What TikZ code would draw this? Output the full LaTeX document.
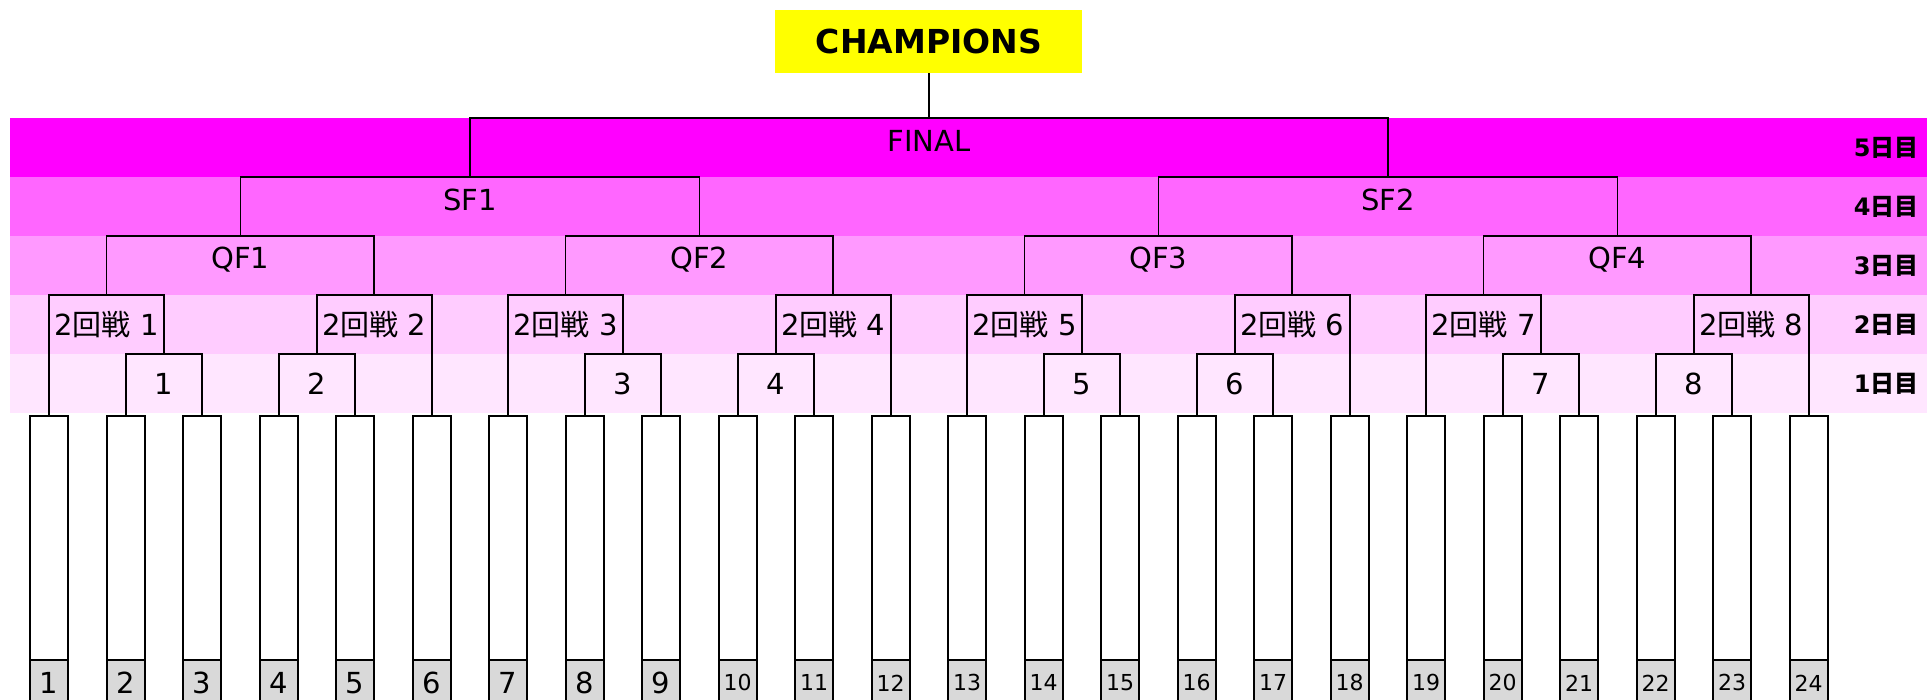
\documentclass[tikz,border=0pt]{standalone}
\usepackage{fontspec}
\setmainfont{DejaVu Sans}
\newfontfamily\jp{Noto Sans CJK JP}
\usetikzlibrary{positioning}
\definecolor{DayFive} {RGB}{255,0,255}
\definecolor{DayFour} {RGB}{255,102,255}
\definecolor{DayThree}{RGB}{255,153,255}
\definecolor{DayTwo}  {RGB}{255,204,255}
\definecolor{DayOne}  {RGB}{255,230,255}
\definecolor{SeedGray}{RGB}{217,217,217}
\definecolor{ChampFill}{RGB}{255,255,0}
\tikzset{
  declare function={colx(\i)=49.2+76.5*(\i-1);},
  % Entry column (tall white box)
  player/.style={
    rectangle, draw, fill=white, line width=0.9pt,
    minimum width=19pt, minimum height=145pt, inner sep=0pt, anchor=north
  },
  % Grey number cell at the foot of each column
  seed/.style={
    rectangle, draw, fill=SeedGray, line width=0.9pt,
    minimum width=19pt, minimum height=23pt, inner sep=0pt, anchor=north,
    font=\fontsize{14.5}{16}\selectfont
  },
  seedsm/.style={seed, font=\fontsize{11}{13}\selectfont},
  % Match labels inside the bands
  lbl/.style={inner sep=0pt, font=\fontsize{14.5}{16}\selectfont},
  daylbl/.style={inner sep=0pt, anchor=east, font=\fontsize{12}{14}\selectfont\bfseries},
  champ/.style={
    rectangle, fill=ChampFill, inner sep=0pt,
    minimum width=153.5pt, minimum height=31.5pt,
    font=\fontsize{16.5}{18}\selectfont\bfseries
  },
  wire/.style={line width=0.9pt}
}

\begin{document}
\begin{tikzpicture}[x=0.5pt, y=-0.5pt]
  \useasboundingbox (0,0) rectangle (1927,700);

  %% -- Day bands --------------------------------------------------------------
  \fill[DayFive]  (10,118) rectangle (1927,177);
  \fill[DayFour]  (10,177) rectangle (1927,236);
  \fill[DayThree] (10,236) rectangle (1927,295);
  \fill[DayTwo]   (10,295) rectangle (1927,354);
  \fill[DayOne]   (10,354) rectangle (1927,413);

  \node[daylbl] (d5) at (1919,147.5) {5\jp 日目};
  \node[daylbl] (d4) at (1919,206.5) {4\jp 日目};
  \node[daylbl] (d3) at (1919,265.5) {3\jp 日目};
  \node[daylbl] (d2) at (1919,324.5) {2\jp 日目};
  \node[daylbl] (d1) at (1919,383.5) {1\jp 日目};

  %% -- Entry columns ----------------------------------------------------------
  \foreach \i in {1,...,24} {
    \node[player] (p\i) at ({colx(\i)},415) {};
  }
  \foreach \i in {1,...,9} {
    \node[seed] (n\i) at ({colx(\i)},659) {\i};
  }
  \foreach \i in {10,...,24} {
    \node[seedsm] (n\i) at ({colx(\i)},659) {\i};
  }

  %% -- Day 1 and day 2 matches, one block of six entries at a time ------------
  \foreach \g in {0,...,3} {
    \pgfmathtruncatemacro\ka{2*\g+1}
    \pgfmathtruncatemacro\kb{2*\g+2}
    \pgfmathtruncatemacro\pa{6*\g+1}
    \pgfmathtruncatemacro\pb{6*\g+2}
    \pgfmathtruncatemacro\pc{6*\g+3}
    \pgfmathtruncatemacro\pd{6*\g+4}
    \pgfmathtruncatemacro\pe{6*\g+5}
    \pgfmathtruncatemacro\pf{6*\g+6}
    % first round
    \coordinate (r1-\ka) at ({colx(6*\g+2.5)},354);
    \coordinate (r1-\kb) at ({colx(6*\g+4.5)},354);
    \node[lbl] (r1l-\ka) at ({colx(6*\g+2.5)},384) {\ka};
    \node[lbl] (r1l-\kb) at ({colx(6*\g+4.5)},384) {\kb};
    \draw[wire] (p\pb.north) |- (r1-\ka) -| (p\pc.north);
    \draw[wire] (p\pd.north) |- (r1-\kb) -| (p\pe.north);
    % second round
    \coordinate (r2-\ka) at ({colx(6*\g+1.75)},295);
    \coordinate (r2-\kb) at ({colx(6*\g+5.25)},295);
    \node[lbl] (r2l-\ka) at ({colx(6*\g+1.75)},324.5) {2{\jp 回戦} \ka};
    \node[lbl] (r2l-\kb) at ({colx(6*\g+5.25)},324.5) {2{\jp 回戦} \kb};
    \draw[wire] (p\pa.north) |- (r2-\ka) -| (r1-\ka);
    \draw[wire] (r1-\kb) |- (r2-\kb) -| (p\pf.north);
  }

  %% -- Quarter finals ---------------------------------------------------------
  \foreach \g in {0,...,3} {
    \pgfmathtruncatemacro\q{\g+1}
    \pgfmathtruncatemacro\ka{2*\g+1}
    \pgfmathtruncatemacro\kb{2*\g+2}
    \coordinate (qf-\q) at ({colx(6*\g+3.5)},236);
    \node[lbl] (qfl-\q) at ({colx(6*\g+3.5)},260) {QF\q};
    \draw[wire] (r2-\ka) |- (qf-\q) -| (r2-\kb);
  }

  %% -- Semi finals and final --------------------------------------------------
  \coordinate (sf-1) at ({colx(6.5)},177);
  \coordinate (sf-2) at ({colx(18.5)},177);
  \node[lbl] (sfl-1) at ({colx(6.5)},200) {SF1};
  \node[lbl] (sfl-2) at ({colx(18.5)},200) {SF2};
  \draw[wire] (qf-1) |- (sf-1) -| (qf-2);
  \draw[wire] (qf-3) |- (sf-2) -| (qf-4);

  \coordinate (fin) at ({colx(12.5)},118);
  \node[lbl] (finl) at ({colx(12.5)},141) {FINAL};
  \draw[wire] (sf-1) |- (fin) -| (sf-2);

  \node[champ] (champ) at ({colx(12.5)},41.5) {CHAMPIONS};
  \draw[wire] (fin) -- (champ.south);

\end{tikzpicture}
\end{document}
